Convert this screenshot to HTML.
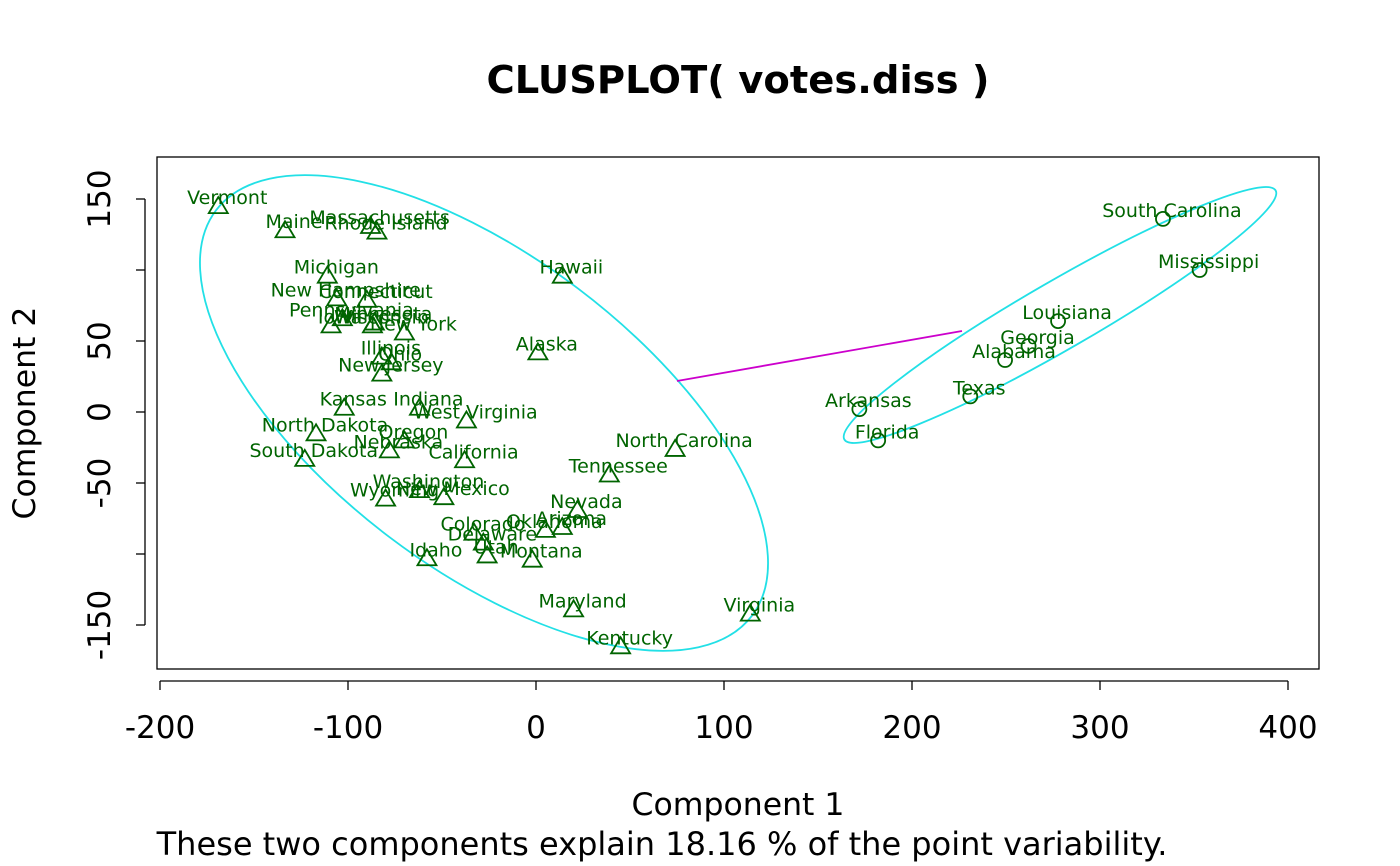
<!DOCTYPE html>
<html><head><meta charset="utf-8"><style>
html,body{margin:0;padding:0;background:#fff;}
svg{display:block;font-family:"DejaVu Sans","Liberation Sans",sans-serif;}
</style></head><body>
<svg id="chart" width="1400" height="866">
<text x="738" y="93" text-anchor="middle" font-size="38.5" font-weight="bold">CLUSPLOT( votes.diss )</text>
<rect x="157" y="157" width="1162" height="512" fill="none" stroke="#000" stroke-width="1.3"/>
<text x="738" y="815" text-anchor="middle" font-size="31.5">Component 1</text>
<text x="662" y="855" text-anchor="middle" font-size="32">These two components explain 18.16 % of the point variability.</text>
<text transform="translate(35,413) rotate(-90)" text-anchor="middle" font-size="31.5">Component 2</text>
<g id="axes"></g>
<g id="marks"></g>
</svg>
<script>
const names = ["Vermont","Maine","Rhode Island","Massachusetts","Michigan","New Hampshire","Connecticut","Pennsylvania","Iowa","Minnesota","Wisconsin","New York","Ohio","Illinois","New Jersey","Kansas","Indiana","West Virginia","North Dakota","Oregon","Nebraska","South Dakota","California","Washington","Wyoming","New Mexico","Colorado","Delaware","Utah","Idaho","Montana","Oklahoma","Arizona","Nevada","Tennessee","Maryland","Kentucky","Virginia","North Carolina","Alaska","Hawaii","South Carolina","Mississippi","Louisiana","Georgia","Alabama","Texas","Arkansas","Florida"];
const comp1 = [-169,-133.5,-84.6,-88,-111,-106,-90,-103,-109,-86,-87,-70,-77,-82,-82,-102,-62,-37,-117,-70,-78,-123,-38,-62,-80,-49,-33,-28,-26,-58,-2,5,14,22,39,20,45,114,74,1,14,333.5,353,277.7,262,249.5,231,172,182];
const comp2 = [145,128,127,131,96,80,79,66,61,63,61,56,35,39,27,3,3,-6,-15,-20,-27,-33,-34,-55,-61,-60,-85,-92,-101,-103,-104,-83,-81,-69,-44,-139,-165,-142,-26,42,96,136,100,64,46.5,36.6,11,2,-20];
const cluster = [1,1,1,1,1,1,1,1,1,1,1,1,1,1,1,1,1,1,1,1,1,1,1,1,1,1,1,1,1,1,1,1,1,1,1,1,1,1,1,1,1,2,2,2,2,2,2,2,2];
const xTicks = [-200,-100,0,100,200,300,400];
const yTicks = [-150,-100,-50,0,50,100,150];
const yTicksLabeled = [-150,-50,0,50,150];

const xs = v => 536 + v*1.88;
const ys = v => 412 - v*1.42;
const NS = "http://www.w3.org/2000/svg";
function mk(tag, attrs, parent){const e=document.createElementNS(NS,tag);for(const k in attrs)e.setAttribute(k,attrs[k]);parent.appendChild(e);return e;}
const axes=document.getElementById('axes'), marks=document.getElementById('marks');

const xa=mk('line',{x1:xs(-200),x2:xs(400),y1:681,y2:681,stroke:'#000','stroke-width':1.3},axes);


xTicks.forEach(t=>{
  const l=mk('line',{x1:xs(t),x2:xs(t),y1:681,y2:690,stroke:'#000','stroke-width':1.3},axes);
  
  
  const tx=mk('text',{x:xs(t),y:738,'text-anchor':'middle','font-size':31},axes);
  tx.textContent=t;
  
  
});
const ya=mk('line',{x1:145,x2:145,y1:ys(150),y2:ys(-150),stroke:'#000','stroke-width':1.3},axes);


yTicks.forEach(t=>{
  const l=mk('line',{x1:136,x2:145,y1:ys(t),y2:ys(t),stroke:'#000','stroke-width':1.3},axes);
  
  
});
yTicksLabeled.forEach(t=>{
  const tx=mk('text',{transform:`translate(110,${ys(t)}) rotate(-90)`,'text-anchor':'middle','font-size':31},axes);
  tx.textContent=t;
  
  
});

const e1=mk('ellipse',{cx:484,cy:413,rx:336,ry:156,transform:'rotate(37.1 484 413)',fill:'none',stroke:'#22e0e6','stroke-width':1.8},marks);


const e2=mk('ellipse',{cx:1060,cy:315,rx:249,ry:34,transform:'rotate(-30 1060 315)',fill:'none',stroke:'#22e0e6','stroke-width':1.8},marks);


const seg=mk('line',{x1:677,y1:381,x2:962,y2:331,stroke:'#cc00cc','stroke-width':1.8},marks);



const G='#006400';
names.forEach((n,i)=>{
  const cx=xs(comp1[i]), cy=ys(comp2[i]);
  let m;
  if(cluster[i]===1){
    m=mk('polygon',{points:`${cx},${cy-9} ${cx-9.5},${cy+7} ${cx+9.5},${cy+7}`,fill:'none',stroke:G,'stroke-width':1.8},marks);
  } else {
    m=mk('circle',{cx:cx,cy:cy,r:7,fill:'none',stroke:G,'stroke-width':1.8},marks);
  }
  
  
  const t=mk('text',{x:cx+9,y:cy-2,'text-anchor':'middle','font-size':19,fill:G},marks);
  t.textContent=n;
  
  
});
</script>
</body></html>
